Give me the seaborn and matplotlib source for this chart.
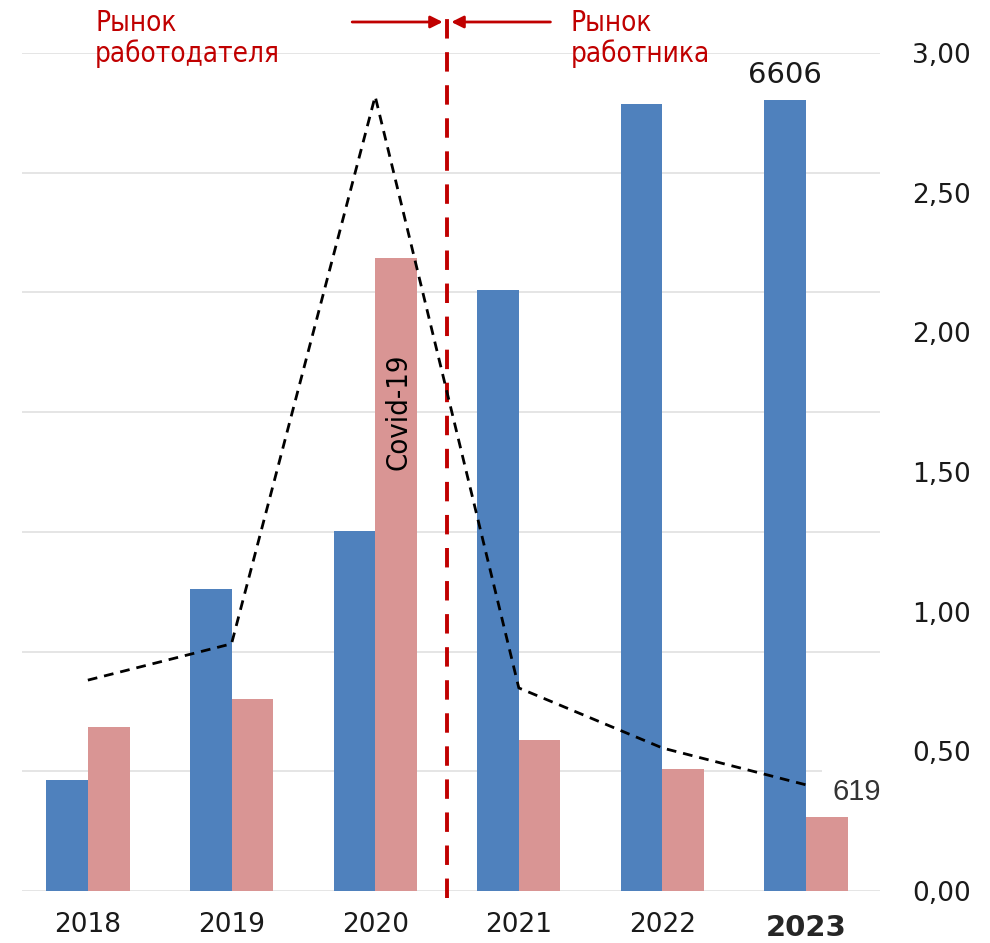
import matplotlib
matplotlib.use("Agg")
import matplotlib.pyplot as plt
import seaborn as sns
import numpy as np
import pandas as pd

years = ["2018", "2019", "2020", "2021", "2022", "2023"]
series_a = [930, 2520, 3010, 5020, 6570, 6606]      # blue bars
series_b = [1370, 1600, 5290, 1260, 1020, 619]      # pink bars
ratio = [0.755, 0.885, 2.845, 0.727, 0.512, 0.38]   # dashed line (right axis)
right_ticks = [0.0, 0.5, 1.0, 1.5, 2.0, 2.5, 3.0]
right_labels = ["0,00", "0,50", "1,00", "1,50", "2,00", "2,50", "3,00"]

blue = "#4F81BD"
pink = "#D99594"
red = "#C00000"

df = pd.DataFrame({
    "year": years * 2,
    "value": series_a + series_b,
    "series": ["A"] * len(years) + ["B"] * len(years),
})

sns.set_theme(style="white")
plt.rcParams["font.family"] = ["DejaVu Sans"]

fig = plt.figure(figsize=(9.9, 9.43), dpi=100)
ax = fig.add_axes([0.022, 0.0551, 0.867, 0.8887])

sns.barplot(data=df, x="year", y="value", hue="series", palette=[blue, pink],
            width=0.58, gap=0, ax=ax, legend=False, saturation=1, linewidth=0)
ax.set_ylim(0, 7000)
ax.set_xlim(-0.46, 5.515)
ax.set_yticks(np.arange(0, 7001, 1000))
ax.set_yticklabels([])
ax.tick_params(axis="y", length=0)
ax.grid(axis="y", color="#E3E3E3", lw=1.3)
ax.set_axisbelow(True)
for s in ax.spines.values():
    s.set_visible(False)
ax.set_xlabel("")
ax.set_ylabel("")
ax.tick_params(axis="x", length=0, pad=15, labelsize=19, labelcolor="#1a1a1a")
for lbl in ax.get_xticklabels():
    if lbl.get_text() == "2023":
        lbl.set_fontweight("bold")
        lbl.set_fontsize(21)
        lbl.set_color("#262626")
        lbl.set_y(-0.003)

ax2 = ax.twinx()
sns.lineplot(x=np.arange(len(years)), y=ratio, ax=ax2, color="black",
             lw=2, linestyle=(0, (3.5, 2.5)))
ax2.set_ylim(0, 3.0)
ax2.set_yticks(right_ticks)
ax2.set_yticklabels(right_labels)
ax2.tick_params(axis="y", length=0, pad=23, labelsize=19, labelcolor="#1a1a1a")
for s in ax2.spines.values():
    s.set_visible(False)
ax2.grid(False)
ax2.set_xlim(-0.46, 5.515)

# vertical separator
ax.axvline(2.5, ymin=-0.008, ymax=1.045, color=red, lw=2.8,
           linestyle=(0, (5, 3.5)), clip_on=False, zorder=5)

# arrows
ax.annotate("", xy=(2.47, 1.037), xytext=(1.84, 1.037),
            xycoords=("data", "axes fraction"), textcoords=("data", "axes fraction"),
            arrowprops=dict(arrowstyle="-|>", color=red, lw=2, mutation_scale=18,
                            shrinkA=0, shrinkB=0))
ax.annotate("", xy=(2.53, 1.037), xytext=(3.22, 1.037),
            xycoords=("data", "axes fraction"), textcoords=("data", "axes fraction"),
            arrowprops=dict(arrowstyle="-|>", color=red, lw=2, mutation_scale=18,
                            shrinkA=0, shrinkB=0))

ax.text(0.05, 1.053, "Рынок\nработодателя", transform=ax.get_xaxis_transform(),
        ha="left", va="top", color=red, fontsize=20, family="DejaVu Sans",
        fontstretch="condensed", linespacing=1.1)
ax.text(3.36, 1.053, "Рынок\nработника", transform=ax.get_xaxis_transform(),
        ha="left", va="top", color=red, fontsize=20, family="DejaVu Sans",
        fontstretch="condensed", linespacing=1.1)

ax.text(2.165, 4000, "Covid-19", rotation=90, ha="center", va="center",
        fontsize=21, family="DejaVu Sans", fontstretch="condensed", color="black")

bw = 0.29
ax.text(5 - bw / 2, series_a[-1] + 90, f"{series_a[-1]}", ha="center", va="bottom",
        fontsize=21, color="#1a1a1a")
ax.text(5 + 0.355, series_b[-1] + 210, f"{series_b[-1]}", ha="center", va="center",
        fontsize=21, color="#333333", family=["Liberation Sans", "DejaVu Sans"],
        bbox=dict(facecolor="white", edgecolor="none", pad=8), zorder=6)

fig.savefig("out.png", dpi=100)
